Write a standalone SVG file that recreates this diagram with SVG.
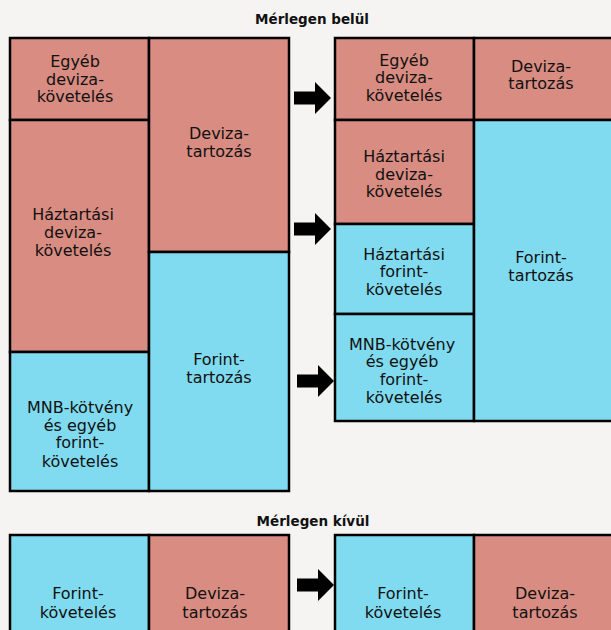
<svg xmlns="http://www.w3.org/2000/svg" xmlns:xlink="http://www.w3.org/1999/xlink" width="611" height="630" viewBox="0 0 611 630">
<defs>
<style>
.bg{fill:#F5F4F2}
.d{fill:#D98C81;stroke:#000;stroke-width:2.5}
.f{fill:#80DBF0;stroke:#000;stroke-width:2.5}
.t{font-family:"DejaVu Sans","Liberation Sans",sans-serif;font-size:16px;fill:#111;text-anchor:middle}
.h{font-family:"DejaVu Sans","Liberation Sans",sans-serif;font-size:13.5px;font-weight:bold;fill:#111;text-anchor:middle}
.arr{fill:#000}
</style>
<path id="arrow" d="M0,-6.5 H21 V-16 L37,0 L21,16 V6.5 H0 Z"/>
</defs>
<rect class="bg" x="0" y="0" width="611" height="630"/>
<text class="h" x="312" y="24">Mérlegen belül</text>
<text class="h" x="313" y="526">Mérlegen kívül</text>

<g id="left-egyeb-deviza">
<rect class="d" x="10" y="38" width="139" height="82"/>
<text class="t" x="75" y="67">Egyéb</text>
<text class="t" x="75" y="85">deviza-</text>
<text class="t" x="75" y="102">követelés</text>
</g>
<g id="left-haztartasi-deviza">
<rect class="d" x="10" y="120" width="139" height="232"/>
<text class="t" x="73" y="220">Háztartási</text>
<text class="t" x="73" y="238">deviza-</text>
<text class="t" x="73" y="256">követelés</text>
</g>
<g id="left-mnb">
<rect class="f" x="10" y="352" width="139" height="139"/>
<text class="t" x="80" y="413">MNB-kötvény</text>
<text class="t" x="80" y="431">és egyéb</text>
<text class="t" x="80" y="448">forint-</text>
<text class="t" x="80" y="467">követelés</text>
</g>
<g id="left-deviza-tartozas">
<rect class="d" x="149" y="38" width="140" height="214"/>
<text class="t" x="219" y="139">Deviza-</text>
<text class="t" x="219" y="157">tartozás</text>
</g>
<g id="left-forint-tartozas">
<rect class="f" x="149" y="252" width="140" height="239"/>
<text class="t" x="219" y="365">Forint-</text>
<text class="t" x="219" y="383">tartozás</text>
</g>

<g id="right-egyeb-deviza">
<rect class="d" x="335" y="38" width="139" height="82"/>
<text class="t" x="404" y="66">Egyéb</text>
<text class="t" x="404" y="83">deviza-</text>
<text class="t" x="404" y="101">követelés</text>
</g>
<g id="right-haztartasi-deviza">
<rect class="d" x="335" y="120" width="139" height="104"/>
<text class="t" x="404" y="162">Háztartási</text>
<text class="t" x="404" y="180">deviza-</text>
<text class="t" x="404" y="197">követelés</text>
</g>
<g id="right-haztartasi-forint">
<rect class="f" x="335" y="224" width="139" height="90"/>
<text class="t" x="404" y="260">Háztartási</text>
<text class="t" x="404" y="277">forint-</text>
<text class="t" x="404" y="295">követelés</text>
</g>
<g id="right-mnb">
<rect class="f" x="335" y="314" width="139" height="107"/>
<text class="t" x="402" y="350">MNB-kötvény</text>
<text class="t" x="402" y="367">és egyéb</text>
<text class="t" x="404" y="385">forint-</text>
<text class="t" x="404" y="403">követelés</text>
</g>
<g id="right-deviza-tartozas">
<rect class="d" x="474" y="38" width="140" height="82"/>
<text class="t" x="541" y="72">Deviza-</text>
<text class="t" x="541" y="89">tartozás</text>
</g>
<g id="right-forint-tartozas">
<rect class="f" x="474" y="120" width="140" height="301"/>
<text class="t" x="541" y="263">Forint-</text>
<text class="t" x="541" y="281">tartozás</text>
</g>

<g id="bottom-left-forint-kovetes">
<rect class="f" x="10" y="535" width="139" height="110"/>
<text class="t" x="78" y="599">Forint-</text>
<text class="t" x="78" y="618">követelés</text>
</g>
<g id="bottom-left-deviza-tartozas">
<rect class="d" x="149" y="535" width="140" height="110"/>
<text class="t" x="215" y="599">Deviza-</text>
<text class="t" x="215" y="618">tartozás</text>
</g>
<g id="bottom-right-forint-kovetes">
<rect class="f" x="335" y="535" width="139" height="110"/>
<text class="t" x="403" y="599">Forint-</text>
<text class="t" x="403" y="618">követelés</text>
</g>
<g id="bottom-right-deviza-tartozas">
<rect class="d" x="474" y="535" width="140" height="110"/>
<text class="t" x="545" y="599">Deviza-</text>
<text class="t" x="545" y="618">tartozás</text>
</g>

<g id="connectors" class="arr">
<use xlink:href="#arrow" transform="translate(294,98)"/>
<use xlink:href="#arrow" transform="translate(294,229)"/>
<use xlink:href="#arrow" transform="translate(297,381)"/>
<use xlink:href="#arrow" transform="translate(297,585)"/>
</g>
</svg>
